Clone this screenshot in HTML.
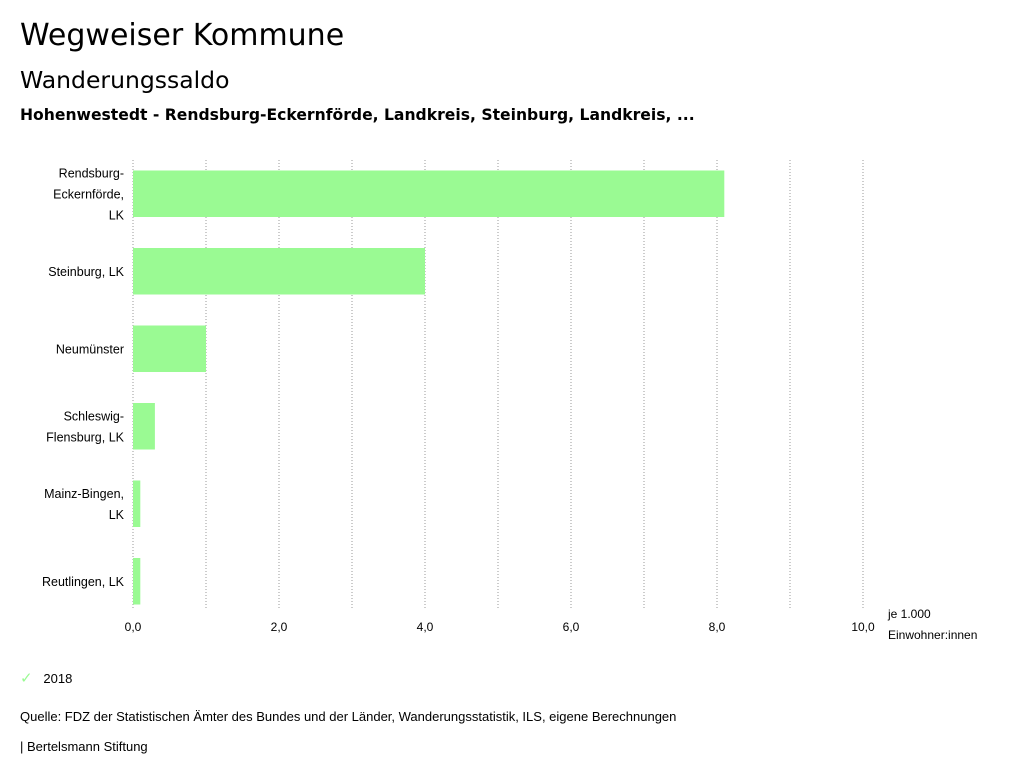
<!DOCTYPE html>
<html><head><meta charset="utf-8"><style>
body{margin:0;background:#fff;font-family:"Liberation Sans","DejaVu Sans",sans-serif;color:#000}
#wrap{position:relative;width:1024px;height:780px;overflow:hidden}
.t{position:absolute;white-space:nowrap}
</style></head><body>
<div id="wrap">
<div class="t" style="left:20px;top:18px;font-size:30px;font-family:'DejaVu Sans',sans-serif">Wegweiser Kommune</div>
<div class="t" style="left:20px;top:66px;font-size:23.5px;font-family:'DejaVu Sans',sans-serif">Wanderungssaldo</div>
<div class="t" style="left:20px;top:106px;font-size:15.6px;font-weight:bold;font-family:'DejaVu Sans',sans-serif">Hohenwestedt - Rendsburg-Eckernförde, Landkreis, Steinburg, Landkreis, ...</div>
<svg id="chart" width="1024" height="780" style="position:absolute;left:0;top:0"></svg>
<div class="t" style="left:20px;top:669px;font-size:13px"><span style="color:#9afa93;font-size:15px">✓</span>&nbsp;&nbsp;&nbsp;2018</div>
<div class="t" style="left:20px;top:709px;font-size:13px">Quelle: FDZ der Statistischen Ämter des Bundes und der Länder, Wanderungsstatistik, ILS, eigene Berechnungen</div>
<div class="t" style="left:20px;top:739px;font-size:13px">| Bertelsmann Stiftung</div>
</div>
<script>
const categories=[["Rendsburg-","Eckernförde,","LK"],["Steinburg, LK"],["Neumünster"],["Schleswig-","Flensburg, LK"],["Mainz-Bingen,","LK"],["Reutlingen, LK"]];
const values2018=[8.1,4.0,1.0,0.3,0.1,0.1];
const tickValues=[0,2,4,6,8,10];
const tickLabels=["0,0","2,0","4,0","6,0","8,0","10,0"];
const NS="http://www.w3.org/2000/svg";
const svg=document.getElementById('chart');
const x0=133,x1=863,xmax=10,plotTop=155,plotBottom=620;
const xs=v=>x0+(v/xmax)*(x1-x0);
const band=(plotBottom-plotTop)/categories.length;
function mk(t,a){const e=document.createElementNS(NS,t);for(const k in a)e.setAttribute(k,a[k]);svg.appendChild(e);return e;}
for(let v=0;v<=xmax;v++){
 const g=mk('line',{x1:xs(v),x2:xs(v),y1:160,y2:610,stroke:'#999','stroke-dasharray':'1,2','stroke-width':1});
 
 
}
categories.forEach((c,i)=>{
 const y=plotTop+i*band+band*0.2,h=band*0.6;
 const r=mk('rect',{x:x0,y:y,width:xs(values2018[i])-x0,height:h,fill:'#9afa93'});
 
 
 const cy=y+h/2,lh=21,st=cy-(c.length-1)*lh/2;
 c.forEach((ln,j)=>{
  const t=mk('text',{x:124,y:st+j*lh+4.5,'text-anchor':'end','font-size':12.5});
  t.textContent=ln;
  
  
 });
});
tickValues.forEach((v,i)=>{
 const t=mk('text',{x:xs(v),y:631,'text-anchor':'middle','font-size':12});
 t.textContent=tickLabels[i];
 
 
});
["je 1.000","Einwohner:innen"].forEach((s,j)=>{
 const t=mk('text',{x:888,y:618+j*21,'font-size':12});
 t.textContent=s;
 
 
});
</script>
</body></html>
